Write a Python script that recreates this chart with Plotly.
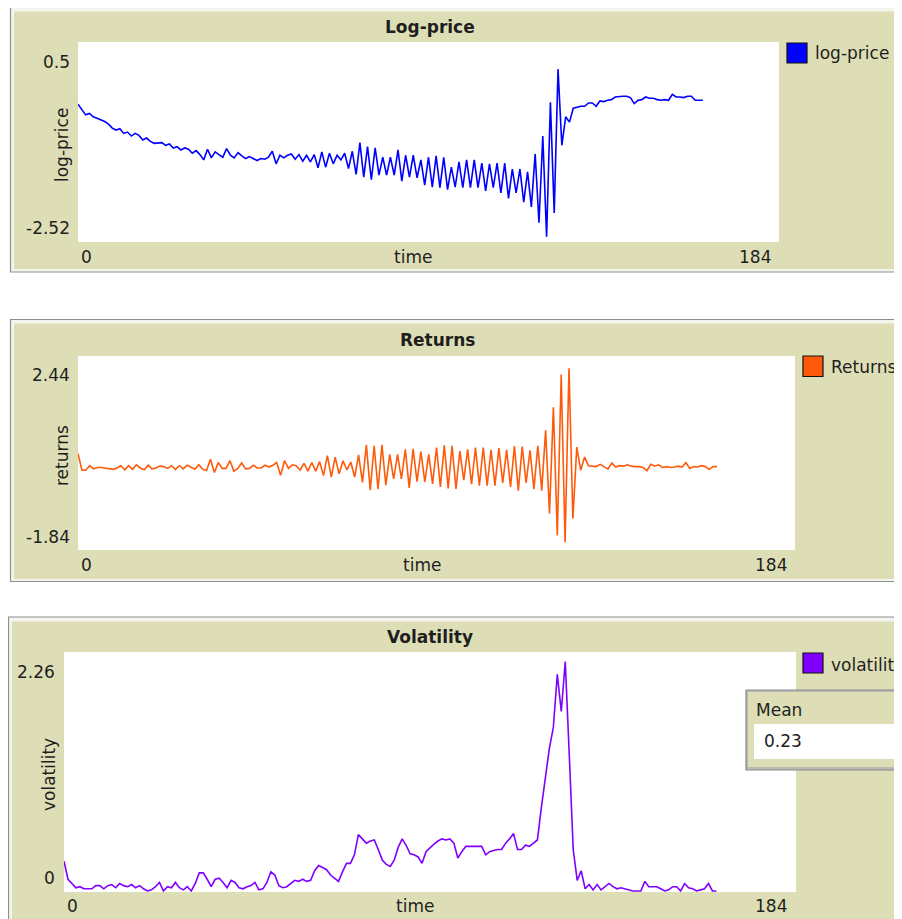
import plotly.graph_objects as go

# The page body has an 8 px margin, so the figure is sized and shifted to fit.
OFF = 8
W, H = 902 - OFF, 919 - OFF

# ---------------- data ----------------
time = list(range(165))

log_price = [
    -0.44, -0.52, -0.60, -0.58, -0.63, -0.65, -0.67, -0.70, -0.74, -0.80,
    -0.83, -0.81, -0.88, -0.86, -0.92, -0.88, -0.91, -0.98, -0.95, -1.00,
    -1.03, -1.02, -1.02, -1.06, -1.04, -1.10, -1.08, -1.13, -1.10, -1.12,
    -1.18, -1.14, -1.20, -1.28, -1.12, -1.25, -1.16, -1.20, -1.24, -1.11,
    -1.21, -1.25, -1.17, -1.22, -1.26, -1.23, -1.26, -1.29, -1.26, -1.27,
    -1.24, -1.15, -1.34, -1.21, -1.25, -1.21, -1.19, -1.27, -1.20, -1.30,
    -1.21, -1.31, -1.20, -1.40, -1.16, -1.39, -1.18, -1.34, -1.21, -1.28,
    -1.18, -1.41, -1.15, -1.50, -1.02, -1.54, -1.08, -1.58, -1.10, -1.51,
    -1.24, -1.51, -1.24, -1.51, -1.13, -1.60, -1.21, -1.54, -1.21, -1.55,
    -1.28, -1.66, -1.24, -1.69, -1.22, -1.70, -1.24, -1.73, -1.39, -1.69,
    -1.31, -1.70, -1.28, -1.70, -1.28, -1.70, -1.33, -1.75, -1.34, -1.70,
    -1.33, -1.78, -1.33, -1.86, -1.42, -1.78, -1.42, -1.92, -1.46, -1.99,
    -1.19, -2.23, -0.92, -2.44, -0.41, -2.08, 0.09, -1.06, -0.63, -0.71,
    -0.50, -0.48, -0.47, -0.47, -0.42, -0.42, -0.47, -0.39, -0.40, -0.38,
    -0.37, -0.33, -0.32, -0.32, -0.32, -0.34, -0.43, -0.38, -0.37, -0.33,
    -0.35, -0.35, -0.37, -0.38, -0.37, -0.38, -0.29, -0.33, -0.33, -0.34,
    -0.32, -0.32, -0.38, -0.38, -0.38,
]

returns = [
    0.29, -0.08, -0.08, 0.02, -0.05, -0.02, -0.02, -0.03, -0.04, -0.06,
    -0.03, 0.02, -0.07, 0.02, -0.06, 0.04, -0.03, -0.07, 0.03, -0.05,
    -0.03, 0.01, 0.00, -0.04, 0.02, -0.06, 0.02, -0.05, 0.03, -0.02,
    -0.06, 0.04, -0.06, -0.08, 0.16, -0.13, 0.09, -0.04, -0.04, 0.13,
    -0.10, -0.04, 0.08, -0.05, -0.04, 0.03, -0.03, -0.03, 0.03, -0.01,
    0.03, 0.09, -0.19, 0.13, -0.04, 0.04, 0.02, -0.08, 0.07, -0.10,
    0.09, -0.10, 0.11, -0.20, 0.24, -0.23, 0.21, -0.16, 0.13, -0.07,
    0.10, -0.23, 0.26, -0.35, 0.48, -0.52, 0.46, -0.50, 0.48, -0.41,
    0.27, -0.27, 0.27, -0.27, 0.38, -0.47, 0.39, -0.33, 0.33, -0.34,
    0.27, -0.38, 0.42, -0.45, 0.47, -0.48, 0.46, -0.49, 0.34, -0.30,
    0.38, -0.39, 0.42, -0.42, 0.42, -0.42, 0.37, -0.42, 0.41, -0.36,
    0.37, -0.45, 0.45, -0.53, 0.44, -0.36, 0.36, -0.50, 0.46, -0.53,
    0.80, -1.04, 1.31, -1.52, 2.03, -1.67, 2.17, -1.15, 0.43, -0.08,
    0.21, 0.02, 0.01, 0.00, 0.05, 0.00, -0.05, 0.08, -0.01, 0.02,
    0.01, 0.04, 0.01, 0.00, 0.00, -0.02, -0.09, 0.05, 0.01, 0.04,
    -0.02, 0.00, -0.02, -0.01, 0.01, -0.01, 0.09, -0.04, 0.00, -0.01,
    0.02, 0.00, -0.06, 0.00, 0.00,
]

volatility = [
    0.29, 0.12, 0.08, 0.04, 0.05, 0.03, 0.03, 0.03, 0.06, 0.06,
    0.03, 0.06, 0.07, 0.04, 0.08, 0.06, 0.05, 0.07, 0.04, 0.06,
    0.03, 0.01, 0.02, 0.05, 0.09, 0.01, 0.05, 0.04, 0.09, 0.04,
    0.02, 0.05, 0.01, 0.08, 0.18, 0.18, 0.12, 0.05, 0.12, 0.13,
    0.09, 0.04, 0.11, 0.09, 0.04, 0.03, 0.05, 0.06, 0.09, 0.02,
    0.03, 0.09, 0.19, 0.16, 0.06, 0.04, 0.05, 0.08, 0.11, 0.10,
    0.12, 0.10, 0.11, 0.20, 0.25, 0.23, 0.21, 0.16, 0.13, 0.10,
    0.19, 0.27, 0.27, 0.35, 0.54, 0.50, 0.46, 0.48, 0.49, 0.40,
    0.30, 0.26, 0.24, 0.30, 0.42, 0.50, 0.44, 0.36, 0.35, 0.33,
    0.27, 0.38, 0.42, 0.45, 0.48, 0.50, 0.49, 0.50, 0.46, 0.32,
    0.38, 0.43, 0.43, 0.43, 0.43, 0.43, 0.35, 0.38, 0.39, 0.40,
    0.40, 0.46, 0.50, 0.55, 0.40, 0.40, 0.44, 0.43, 0.46, 0.49,
    0.80, 1.09, 1.35, 1.55, 2.05, 1.70, 2.17, 1.30, 0.40, 0.11,
    0.20, 0.03, 0.07, 0.02, 0.07, 0.02, 0.05, 0.08, 0.05, 0.03,
    0.04, 0.03, 0.02, 0.01, 0.01, 0.01, 0.10, 0.05, 0.05, 0.05,
    0.03, 0.01, 0.02, 0.05, 0.05, 0.01, 0.08, 0.04, 0.03, 0.01,
    0.02, 0.03, 0.08, 0.01, 0.01,
]

x_max = 184
price_range = [-2.52, 0.5]
returns_range = [-1.84, 2.44]
vol_range = [0, 2.26]
mean_volatility = "0.23"

# ---------------- styling helpers ----------------
FONT = "DejaVu Sans"
BEIGE = "#dedeb6"
TXT = "#1e1e1e"
FS = 17


def px(x):
    return (x - OFF) / W


def py(y):
    return 1 - (y - OFF) / H


shapes = []
annotations = []


def rect(x0, y0, x1, y1, fill, line=None, lw=1):
    shapes.append(dict(
        type="rect", xref="paper", yref="paper",
        x0=px(x0), x1=px(x1), y0=py(y1), y1=py(y0),
        fillcolor=fill,
        line=dict(color=line if line else "rgba(0,0,0,0)", width=lw if line else 0),
        layer="below",
    ))


def text(t, x, y, xanchor="center", size=FS, bold=False, angle=0, color=TXT):
    annotations.append(dict(
        text=t, x=px(x), y=py(y), xref="paper", yref="paper",
        xanchor=xanchor, yanchor="middle", showarrow=False,
        textangle=angle,
        font=dict(family=FONT, size=size, color=color,
                  weight="bold" if bold else "normal"),
    ))


# panels (outer border + beige body)
panels = [
    (10.5, 7.5, 272, 14, 11.5, 269),
    (10.5, 319.5, 581.5, 14, 323.5, 579),
    (8.5, 617, 940, 12, 621.5, 940),
]
for (ox, oy0, oy1, ix, iy0, iy1) in panels:
    rect(ox, oy0, 930, oy1, "#f4f4ee", line="#8e8e8e", lw=1.2)
    rect(ix, iy0, 930, iy1, BEIGE)

# plot areas (white)
plot_boxes = [
    (78, 42, 779, 242),
    (78, 356, 795, 550),
    (64, 652, 796, 892),
]
for (x0, y0, x1, y1) in plot_boxes:
    rect(x0, y0, x1, y1, "white")

# legend swatches
BLUE = "#0000ff"
ORANGE = "#ff5a0a"
PURPLE = "#8000ff"
rect(787, 43, 807, 63, BLUE, line="#111111", lw=1.2)
rect(803, 356, 823, 376.5, ORANGE, line="#111111", lw=1.2)
rect(803, 653, 823, 673, PURPLE, line="#111111", lw=1.2)

# Mean monitor
rect(746, 690, 930, 770, "#b9b9b0", line="#8a8a8a", lw=1.2)
rect(748, 692, 930, 767, BEIGE)
rect(754, 724, 896, 759, "white")

# ---------------- traces ----------------
fig = go.Figure()
fig.add_trace(go.Scatter(x=time, y=log_price, mode="lines", name="log-price",
                         line=dict(color=BLUE, width=1.6), xaxis="x", yaxis="y",
                         showlegend=False, hoverinfo="skip"))
fig.add_trace(go.Scatter(x=time, y=returns, mode="lines", name="Returns",
                         line=dict(color=ORANGE, width=1.6), xaxis="x2", yaxis="y2",
                         showlegend=False, hoverinfo="skip"))
fig.add_trace(go.Scatter(x=time, y=volatility, mode="lines", name="volatility",
                         line=dict(color=PURPLE, width=1.6), xaxis="x3", yaxis="y3",
                         showlegend=False, hoverinfo="skip"))

ax_common = dict(showgrid=False, zeroline=False, showline=False,
                 showticklabels=False, ticks="", fixedrange=True)


def xdom(b):
    return [px(b[0]), px(b[2])]


def ydom(b):
    return [py(b[3]), py(b[1])]


layout_axes = {}
ranges = [price_range, returns_range, vol_range]
for i, b in enumerate(plot_boxes):
    sfx = "" if i == 0 else str(i + 1)
    layout_axes["xaxis" + sfx] = dict(domain=xdom(b), range=[0, x_max],
                                      anchor="y" + sfx, **ax_common)
    layout_axes["yaxis" + sfx] = dict(domain=ydom(b), range=ranges[i],
                                      anchor="x" + sfx, **ax_common)

# ---------------- texts ----------------
# Panel 1
text("Log-price", 430, 27, bold=True)
text("0.5", 72, 62, xanchor="right")
text("-2.52", 72, 228, xanchor="right")
text("log-price", 62, 145, angle=-90)
text("0", 79, 257, xanchor="left")
text("time", 413, 257)
text("184", 773, 257, xanchor="right")
text("log-price", 813, 53, xanchor="left")

# Panel 2
text("Returns", 437, 340, bold=True)
text("2.44", 72, 375, xanchor="right")
text("-1.84", 72, 537, xanchor="right")
text("returns", 62, 456, angle=-90)
text("0", 79, 565, xanchor="left")
text("time", 422, 565)
text("184", 789, 565, xanchor="right")
text("Returns", 829, 367, xanchor="left")

# Panel 3
text("Volatility", 430, 637, bold=True)
text("2.26", 57, 672, xanchor="right")
text("0", 57, 878, xanchor="right")
text("volatility", 49, 775, angle=-90)
text("0", 65, 906, xanchor="left")
text("time", 415, 906)
text("184", 789, 906, xanchor="right")
text("volatility", 829, 665, xanchor="left")

# Monitor
text("Mean", 754, 710, xanchor="left")
text(mean_volatility, 762, 741, xanchor="left")

fig.update_layout(
    width=W, height=H, autosize=False,
    margin=dict(l=0, r=0, t=0, b=0, pad=0),
    paper_bgcolor="white", plot_bgcolor="rgba(0,0,0,0)",
    shapes=shapes, annotations=annotations,
    showlegend=False,
    **layout_axes,
)

fig.write_html("out.html", config={"displayModeBar": False})
